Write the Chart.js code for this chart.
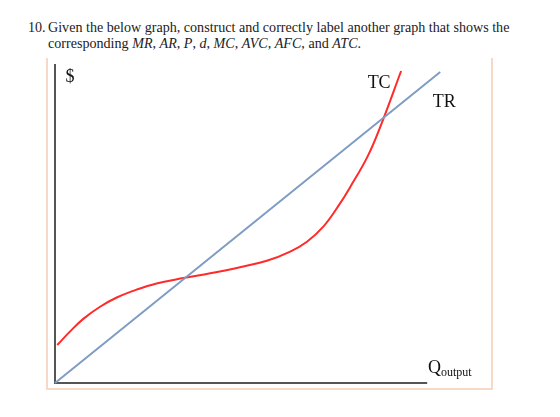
<!DOCTYPE html>
<html>
<head>
<meta charset="utf-8">
<script src="https://cdn.jsdelivr.net/npm/chart.js@4.4.1/dist/chart.umd.min.js"></script>
<style>
  html, body { margin: 0; padding: 0; background: #fff; }
  #wrap { position: relative; width: 560px; height: 417px; }
  #question {
    position: absolute; left: 28px; top: 19px;
    font-family: "Liberation Serif", serif; font-size: 14.1px; line-height: 16px; color: #222;
    white-space: nowrap;
  }
  #question div { position: relative; padding-left: 20px; }
  #question .num { position: absolute; left: 0; top: 0; }
  #frame {
    position: absolute; left: 46px; top: 58px; width: 443px; height: 330px;
    border-left: 2px solid #f6d9c6; border-right: 2px solid #f6d9c6; border-bottom: 2px solid #f6d9c6;
  }
  canvas { position: absolute; left: 0; top: 0; }
</style>
</head>
<body>
<div id="wrap">
  <div id="question">
    <div><span class="num">10.</span>Given the below graph, construct and correctly label another graph that shows the</div>
    <div>corresponding <i>MR</i>, <i>AR</i>, <i>P</i>, <i>d</i>, <i>MC</i>, <i>AVC</i>, <i>AFC</i>, and <i>ATC</i>.</div>
  </div>
  <div id="frame"></div>
  <canvas id="chart" width="560" height="417"></canvas>
</div>
<script>
// quantity / dollar readings from the picture
const trQty = [0, 103.5];
const trDollars = [0, 97.5];
const tcQty = [0.6, 4.0, 7.6, 12.1, 16.6, 22.0, 27.3, 34.5, 41.7, 49.7, 56.9, 63.2, 67.7, 72.1, 76.6, 79.3, 83.9, 87.4, 93.0];
const tcDollars = [11.9, 16.1, 20.1, 23.9, 26.8, 29.3, 31.2, 32.9, 34.4, 36.3, 38.3, 41.2, 44.3, 49.0, 56.3, 61.4, 70.8, 80.3, 97.8];
const axisEnd = [100, 100];

function toPoints(xs, ys) {
    return xs.map((x, i) => ({ x: x, y: ys[i] }));
}

const serif = '"Liberation Serif", "DejaVu Serif", serif';

const axesAndLabels = {
    id: 'axesAndLabels',
    beforeDatasetsDraw(chart) {
        const ctx = chart.ctx;
        const xs = chart.scales.x;
        const ys = chart.scales.y;
        const x0 = xs.getPixelForValue(0);
        const y0 = ys.getPixelForValue(0);
        ctx.save();
        ctx.strokeStyle = '#555';
        ctx.lineWidth = 2;
        ctx.beginPath();
        ctx.moveTo(x0, ys.getPixelForValue(axisEnd[1]));
        ctx.lineTo(x0, y0);
        ctx.lineTo(xs.getPixelForValue(axisEnd[0]), y0);
        ctx.stroke();
        ctx.restore();
    },
    afterDatasetsDraw(chart) {
        const ctx = chart.ctx;
        const xs = chart.scales.x;
        const ys = chart.scales.y;
        ctx.save();
        ctx.fillStyle = '#111';
        ctx.textBaseline = 'alphabetic';
        ctx.font = '18px ' + serif;
        ctx.fillText('$', xs.getPixelForValue(2.8), ys.getPixelForValue(94.5));
        ctx.fillText('TC', xs.getPixelForValue(84), ys.getPixelForValue(92.5));
        ctx.fillText('TR', xs.getPixelForValue(101.5), ys.getPixelForValue(86.5));
        const qx = xs.getPixelForValue(100.2);
        const qy = ys.getPixelForValue(3);
        ctx.fillText('Q', qx, qy);
        const qw = ctx.measureText('Q').width;
        ctx.font = '12px ' + serif;
        ctx.fillText('output', qx + qw, qy + 3);
        ctx.restore();
    }
};

new Chart(document.getElementById('chart'), {
    type: 'scatter',
    data: {
        datasets: [
            {
                label: 'TR',
                data: toPoints(trQty, trDollars),
                showLine: true,
                borderColor: '#7f9cc3',
                borderWidth: 2,
                pointRadius: 0,
                clip: false
            },
            {
                label: 'TC',
                data: toPoints(tcQty, tcDollars),
                showLine: true,
                borderColor: '#ff2a2a',
                borderWidth: 2,
                pointRadius: 0,
                tension: 0.4,
                clip: false
            }
        ]
    },
    options: {
        responsive: false,
        animation: false,
        layout: { padding: { left: 55, right: 77, top: 64, bottom: 34 } },
        plugins: { legend: { display: false }, tooltip: { enabled: false } },
        scales: {
            x: { type: 'linear', min: 0, max: 115, display: false },
            y: { type: 'linear', min: 0, max: 100, display: false }
        }
    },
    plugins: [axesAndLabels]
});
</script>
</body>
</html>
